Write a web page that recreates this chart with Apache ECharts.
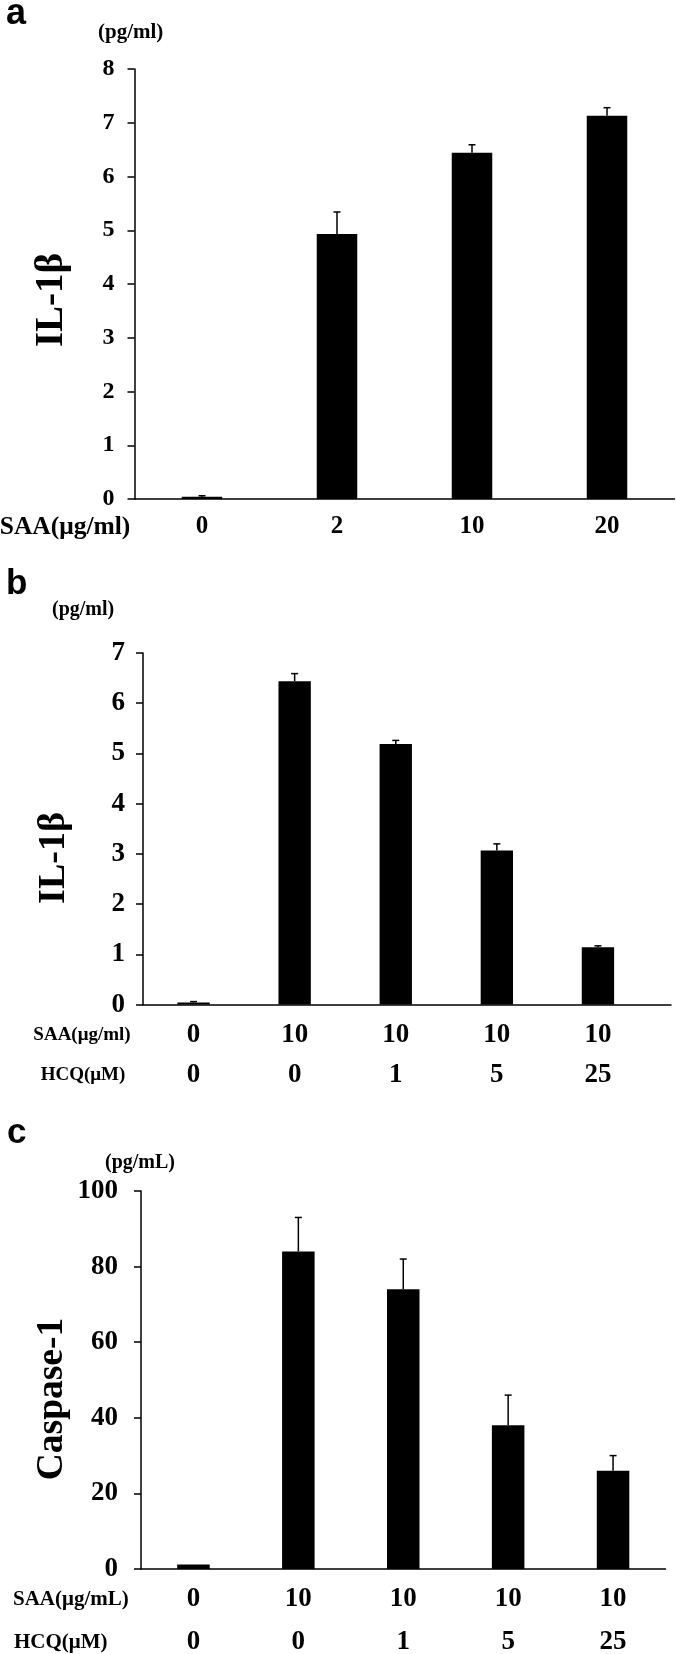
<!DOCTYPE html>
<html>
<head>
<meta charset="utf-8">
<script src="https://cdn.jsdelivr.net/npm/echarts@6/dist/echarts.min.js"></script>
<style>
  html, body { margin: 0; padding: 0; background: #fff; }
  #chart { width: 676px; height: 1654px; }
</style>
</head>
<body>
<div id="chart"></div>
<script>
// panel a: IL-1β vs SAA dose
var aSaa = ['0', '2', '10', '20'];
var aValues = [0.04, 4.93, 6.44, 7.13];
var aErrors = [0.02, 0.41, 0.15, 0.15];

// panel b: IL-1β, SAA 10 + HCQ
var bSaa = ['0', '10', '10', '10', '10'];
var bHcq = ['0', '0', '1', '5', '25'];
var bValues = [0.04, 6.44, 5.19, 3.07, 1.14];
var bErrors = [0.02, 0.15, 0.07, 0.13, 0.03];

// panel c: Caspase-1, SAA 10 + HCQ
var cSaa = ['0', '10', '10', '10', '10'];
var cHcq = ['0', '0', '1', '5', '25'];
var cValues = [1.2, 84, 74, 38, 26];
var cErrors = [0, 9, 8, 8, 4];

var serif = '"Liberation Serif", "Times New Roman", serif';
var sans = '"Liberation Sans", Arial, sans-serif';

var myChart = echarts.init(document.getElementById('chart'));

function twoRows(saa, hcq) {
    var out = [];
    for (var i = 0; i < saa.length; i++) out.push(saa[i] + '\n' + hcq[i]);
    return out;
}

function errData(values, errors) {
    return values.map(function (v, i) { return [i, v, errors[i]]; });
}

// upper error bar with a small cap
function renderErr(params, api) {
    var x = api.value(0), v = api.value(1), e = api.value(2);
    if (!e) return null;
    var p0 = api.coord([x, v]);
    var p1 = api.coord([x, v + e]);
    var st = { stroke: '#000', lineWidth: 1.5 };
    return {
        type: 'group',
        children: [
            { type: 'line', shape: { x1: p0[0], y1: p0[1], x2: p1[0], y2: p1[1] }, style: st },
            { type: 'line', shape: { x1: p1[0] - 3.5, y1: p1[1], x2: p1[0] + 3.5, y2: p1[1] }, style: st }
        ]
    };
}

function yAxisOf(grid, max, interval, fontSize, margin) {
    return {
        type: 'value',
        gridIndex: grid,
        min: 0,
        max: max,
        interval: interval,
        axisLine: { show: true, lineStyle: { color: '#000', width: 1.5 } },
        axisTick: { show: true, length: 7, lineStyle: { color: '#000', width: 1.5 } },
        axisLabel: { fontFamily: serif, fontWeight: 'bold', fontSize: fontSize, color: '#000', margin: margin },
        splitLine: { show: false }
    };
}

function text(x, y, str, size, font, align, rot) {
    return {
        type: 'text',
        x: x,
        y: y,
        rotation: rot || 0,
        style: {
            text: str,
            fontFamily: font,
            fontWeight: 'bold',
            fontSize: size,
            fill: '#000',
            align: align || 'left',
            verticalAlign: 'middle'
        }
    };
}

var option = {
    backgroundColor: '#fff',
    animation: false,
    grid: [
        { left: 134.5, top: 69, width: 540, height: 430, outerBoundsMode: 'none' },
        { left: 143, top: 653, width: 505.5, height: 351.6, outerBoundsMode: 'none' },
        { left: 143, top: 653, width: 528, height: 351.6, outerBoundsMode: 'none' },
        { left: 141, top: 1191, width: 524.5, height: 378, outerBoundsMode: 'none' }
    ],
    xAxis: [
        {
            type: 'category', gridIndex: 0, data: aSaa,
            axisLine: { show: true, lineStyle: { color: '#000', width: 1.5 } },
            axisTick: { show: false },
            axisLabel: { fontFamily: serif, fontWeight: 'bold', fontSize: 25, color: '#000', margin: 14, lineHeight: 28 }
        },
        {
            type: 'category', gridIndex: 1, data: twoRows(bSaa, bHcq),
            axisLine: { show: false },
            axisTick: { show: false },
            axisLabel: { fontFamily: serif, fontWeight: 'bold', fontSize: 27, color: '#000', margin: 10, lineHeight: 40 }
        },
        {
            // only the baseline of panel b, which runs a little past the last bar
            type: 'category', gridIndex: 2, data: bSaa,
            axisLine: { show: true, lineStyle: { color: '#000', width: 1.5 } },
            axisTick: { show: false },
            axisLabel: { show: false }
        },
        {
            type: 'category', gridIndex: 3, data: twoRows(cSaa, cHcq),
            axisLine: { show: true, lineStyle: { color: '#000', width: 1.5 } },
            axisTick: { show: false },
            axisLabel: { fontFamily: serif, fontWeight: 'bold', fontSize: 27, color: '#000', margin: 9, lineHeight: 43 }
        }
    ],
    yAxis: [
        yAxisOf(0, 8, 1, 24, 20),
        yAxisOf(1, 7, 1, 27, 18),
        { type: 'value', gridIndex: 2, min: 0, max: 7, show: false },
        yAxisOf(3, 100, 20, 27, 23)
    ],
    graphic: [
        text(6, 14, 'a', 36, sans),
        text(98, 33, '(pg/ml)', 21, serif),
        text(52, 300, 'IL-1β', 39, serif, 'center', Math.PI / 2),
        text(65, 527, 'SAA(μg/ml)', 25.5, serif, 'center'),
        text(6, 584, 'b', 35, sans),
        text(52, 610, '(pg/ml)', 20, serif),
        text(54, 858, 'IL-1β', 38, serif, 'center', Math.PI / 2),
        text(82, 1035, 'SAA(μg/ml)', 19, serif, 'center'),
        text(83, 1075, 'HCQ(μM)', 19, serif, 'center'),
        text(7, 1133, 'c', 35, sans),
        text(105, 1163, '(pg/mL)', 20, serif),
        text(52, 1399, 'Caspase-1', 37.5, serif, 'center', Math.PI / 2),
        text(13, 1600, 'SAA(μg/mL)', 21, serif),
        text(14, 1643, 'HCQ(μM)', 21, serif)
    ],
    series: [
        { type: 'bar', xAxisIndex: 0, yAxisIndex: 0, data: aValues, barWidth: '30%', itemStyle: { color: '#000' } },
        { type: 'custom', xAxisIndex: 0, yAxisIndex: 0, data: errData(aValues, aErrors), renderItem: renderErr, z: 5 },
        { type: 'bar', xAxisIndex: 1, yAxisIndex: 1, data: bValues, barWidth: '32%', itemStyle: { color: '#000' } },
        { type: 'custom', xAxisIndex: 1, yAxisIndex: 1, data: errData(bValues, bErrors), renderItem: renderErr, z: 5 },
        { type: 'bar', xAxisIndex: 3, yAxisIndex: 3, data: cValues, barWidth: '31%', itemStyle: { color: '#000' } },
        { type: 'custom', xAxisIndex: 3, yAxisIndex: 3, data: errData(cValues, cErrors), renderItem: renderErr, z: 5 }
    ]
};

myChart.setOption(option);
</script>
</body>
</html>
